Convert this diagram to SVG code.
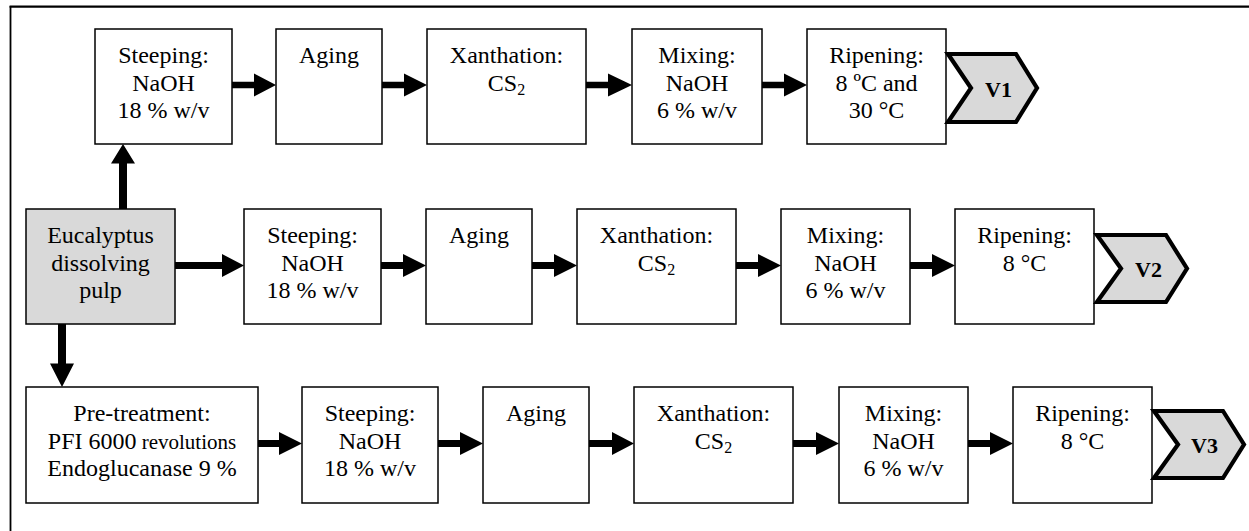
<svg xmlns="http://www.w3.org/2000/svg" width="1249" height="531" viewBox="0 0 1249 531">
<style>
  .box { fill: #ffffff; stroke: #000000; stroke-width: 1.5; }
  .grey { fill: #d9d9d9; }
  .chev { fill: #d9d9d9; stroke: #000000; stroke-width: 4.2; stroke-linejoin: miter; }
  .lbl { font-family: "Liberation Serif", "Times New Roman", serif; font-size: 24px; fill: #000000; text-anchor: middle; }
  .v { font-family: "Liberation Serif", "Times New Roman", serif; font-size: 22px; font-weight: bold; fill: #000000; }
  .arrow { fill: #000000; stroke: none; }
  .frame { stroke: #000000; fill: none; }
</style>

<g id="frame">
  <line class="frame" x1="10.5" y1="531" x2="10.5" y2="6" stroke-width="1.8"/>
  <line class="frame" x1="9.6" y1="6.6" x2="1249" y2="6.6" stroke-width="2.4"/>
</g>

<g id="connectors">
  <!-- top row -->
  <polygon class="arrow" points="232,81.7 254,81.7 254,73.5 276,85 254,96.5 254,88.3 232,88.3"/>
  <polygon class="arrow" points="382,81.7 404,81.7 404,73.5 427,85 404,96.5 404,88.3 382,88.3"/>
  <polygon class="arrow" points="586,81.7 608,81.7 608,73.5 632,85 608,96.5 608,88.3 586,88.3"/>
  <polygon class="arrow" points="762,81.7 784,81.7 784,73.5 807,85 784,96.5 784,88.3 762,88.3"/>
  <!-- middle row -->
  <polygon class="arrow" points="175,262 222,262 222,254 244,265.5 222,277 222,269 175,269"/>
  <polygon class="arrow" points="381,262 403,262 403,254 426,265.5 403,277 403,269 381,269"/>
  <polygon class="arrow" points="532,262 554,262 554,254 577,265.5 554,277 554,269 532,269"/>
  <polygon class="arrow" points="736,262 758,262 758,254 781,265.5 758,277 758,269 736,269"/>
  <polygon class="arrow" points="910,262 932,262 932,254 955,265.5 932,277 932,269 910,269"/>
  <!-- bottom row -->
  <polygon class="arrow" points="258,440 279,440 279,432 302,443.5 279,455 279,447 258,447"/>
  <polygon class="arrow" points="438,440 460,440 460,432 483,443.5 460,455 460,447 438,447"/>
  <polygon class="arrow" points="589,440 612,440 612,432 634,443.5 612,455 612,447 589,447"/>
  <polygon class="arrow" points="793,440 816,440 816,432 839,443.5 816,455 816,447 793,447"/>
  <polygon class="arrow" points="968,440 990,440 990,432 1013,443.5 990,455 990,447 968,447"/>
  <!-- vertical -->
  <polygon class="arrow" points="119,209 119,163.5 111,163.5 123,144 135,163.5 127,163.5 127,209"/>
  <polygon class="arrow" points="58,324 58,363.5 50,363.5 62,387 74,363.5 66,363.5 66,324"/>
</g>

<!-- top row V1 -->
<g id="top-steeping">
  <rect class="box" x="95" y="29" width="137" height="115"/>
  <text class="lbl" x="163.5" y="63">Steeping:</text>
  <text class="lbl" x="163.5" y="90.5">NaOH</text>
  <text class="lbl" x="163.5" y="118">18 % w/v</text>
</g>
<g id="top-aging">
  <rect class="box" x="276" y="29" width="106" height="115"/>
  <text class="lbl" x="329" y="63">Aging</text>
</g>
<g id="top-xanthation">
  <rect class="box" x="427" y="29" width="159" height="115"/>
  <text class="lbl" x="506.5" y="63">Xanthation:</text>
  <text class="lbl" x="506.5" y="90.5">CS<tspan font-size="16" dy="4">2</tspan></text>
</g>
<g id="top-mixing">
  <rect class="box" x="632" y="29" width="130" height="115"/>
  <text class="lbl" x="697" y="63">Mixing:</text>
  <text class="lbl" x="697" y="90.5">NaOH</text>
  <text class="lbl" x="697" y="118">6 % w/v</text>
</g>
<g id="top-ripening">
  <rect class="box" x="807" y="29" width="139" height="115"/>
  <text class="lbl" x="876.5" y="63">Ripening:</text>
  <text class="lbl" x="876.5" y="90.5">8 ºC and</text>
  <text class="lbl" x="876.5" y="118">30 °C</text>
</g>
<g id="v1">
  <polygon class="chev" points="948,54 1016,54 1037,88 1016,122 948,122 971,88"/>
  <text class="v" x="985" y="97">V1</text>
</g>

<!-- middle row V2 -->
<g id="eucalyptus">
  <rect class="box grey" x="26" y="209" width="149" height="115"/>
  <text class="lbl" x="100.5" y="243">Eucalyptus</text>
  <text class="lbl" x="100.5" y="270.5">dissolving</text>
  <text class="lbl" x="100.5" y="298">pulp</text>
</g>
<g id="mid-steeping">
  <rect class="box" x="244" y="209" width="137" height="115"/>
  <text class="lbl" x="312.5" y="243">Steeping:</text>
  <text class="lbl" x="312.5" y="270.5">NaOH</text>
  <text class="lbl" x="312.5" y="298">18 % w/v</text>
</g>
<g id="mid-aging">
  <rect class="box" x="426" y="209" width="106" height="115"/>
  <text class="lbl" x="479" y="243">Aging</text>
</g>
<g id="mid-xanthation">
  <rect class="box" x="577" y="209" width="159" height="115"/>
  <text class="lbl" x="656.5" y="243">Xanthation:</text>
  <text class="lbl" x="656.5" y="270.5">CS<tspan font-size="16" dy="4">2</tspan></text>
</g>
<g id="mid-mixing">
  <rect class="box" x="781" y="209" width="129" height="115"/>
  <text class="lbl" x="845.5" y="243">Mixing:</text>
  <text class="lbl" x="845.5" y="270.5">NaOH</text>
  <text class="lbl" x="845.5" y="298">6 % w/v</text>
</g>
<g id="mid-ripening">
  <rect class="box" x="955" y="209" width="139" height="115"/>
  <text class="lbl" x="1024.5" y="243">Ripening:</text>
  <text class="lbl" x="1024.5" y="270.5">8 °C</text>
</g>
<g id="v2">
  <polygon class="chev" points="1097,235 1166,235 1187,268.5 1166,302 1097,302 1121,268.5"/>
  <text class="v" x="1135" y="277">V2</text>
</g>

<!-- bottom row V3 -->
<g id="pretreatment">
  <rect class="box" x="26" y="387" width="232" height="116"/>
  <text class="lbl" x="142" y="421">Pre-treatment:</text>
  <text class="lbl" x="142" y="448.5">PFI 6000<tspan font-size="21"> revolutions</tspan></text>
  <text class="lbl" x="142" y="476">Endoglucanase 9 %</text>
</g>
<g id="bot-steeping">
  <rect class="box" x="302" y="387" width="136" height="116"/>
  <text class="lbl" x="370" y="421">Steeping:</text>
  <text class="lbl" x="370" y="448.5">NaOH</text>
  <text class="lbl" x="370" y="476">18 % w/v</text>
</g>
<g id="bot-aging">
  <rect class="box" x="483" y="387" width="106" height="116"/>
  <text class="lbl" x="536" y="421">Aging</text>
</g>
<g id="bot-xanthation">
  <rect class="box" x="634" y="387" width="159" height="116"/>
  <text class="lbl" x="713.5" y="421">Xanthation:</text>
  <text class="lbl" x="713.5" y="448.5">CS<tspan font-size="16" dy="4">2</tspan></text>
</g>
<g id="bot-mixing">
  <rect class="box" x="839" y="387" width="129" height="116"/>
  <text class="lbl" x="903.5" y="421">Mixing:</text>
  <text class="lbl" x="903.5" y="448.5">NaOH</text>
  <text class="lbl" x="903.5" y="476">6 % w/v</text>
</g>
<g id="bot-ripening">
  <rect class="box" x="1013" y="387" width="139" height="116"/>
  <text class="lbl" x="1082.5" y="421">Ripening:</text>
  <text class="lbl" x="1082.5" y="448.5">8 °C</text>
</g>
<g id="v3">
  <polygon class="chev" points="1154,411 1223,411 1244,444.5 1223,478 1154,478 1178,444.5"/>
  <text class="v" x="1191" y="453">V3</text>
</g>
</svg>
